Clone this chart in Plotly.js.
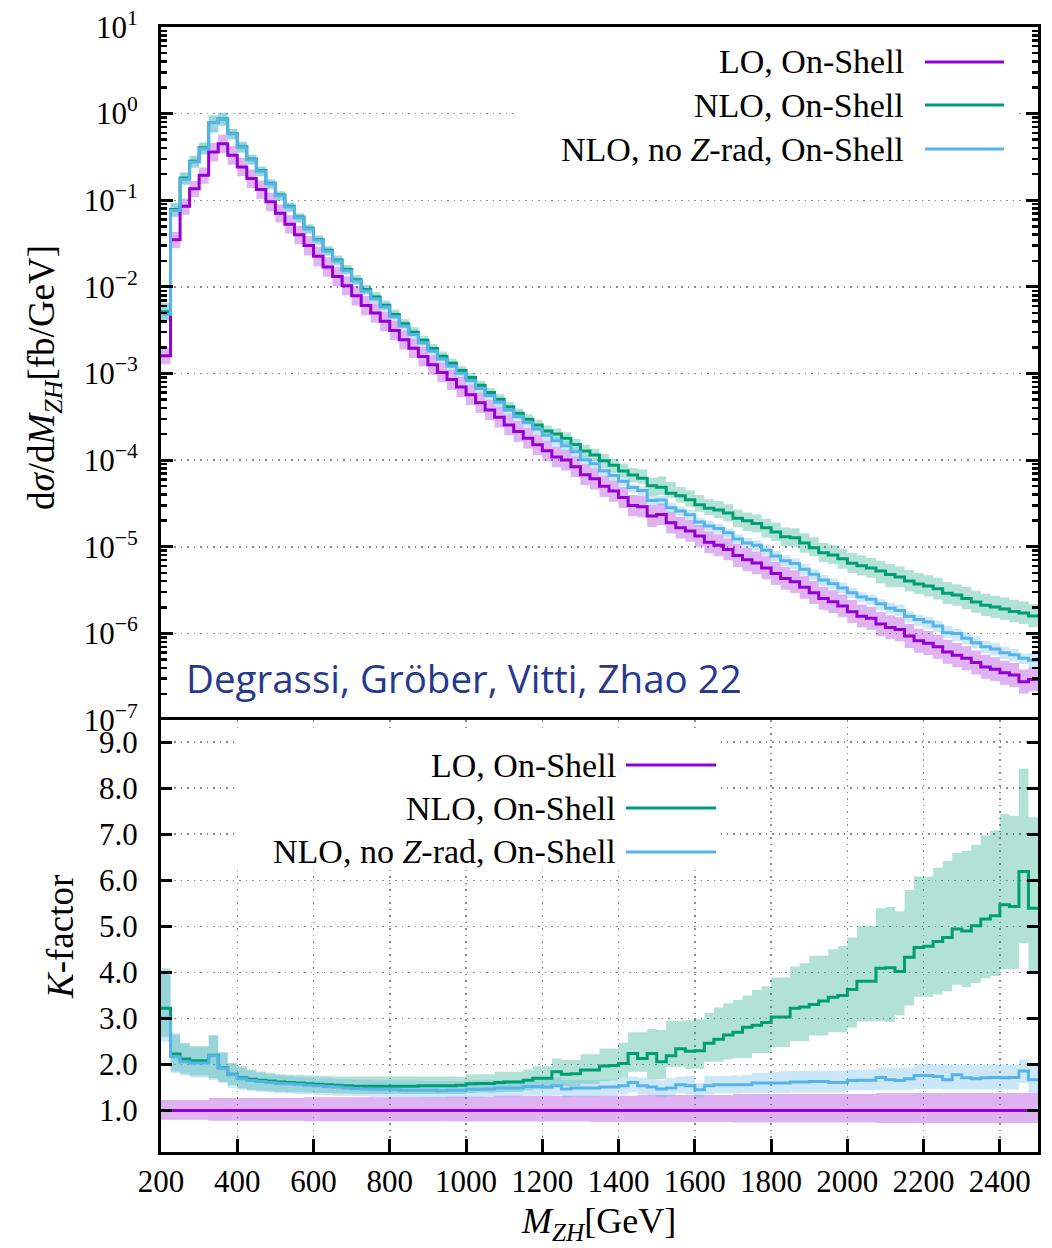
<!DOCTYPE html>
<html>
<head>
<meta charset="utf-8">
<script src="https://cdn.plot.ly/plotly-3.0.1.min.js"></script>
<style>
  html, body { margin: 0; padding: 0; background: #fff; }
  #chart { width: 1052px; height: 1248px; }
</style>
</head>
<body>
<div id="chart"></div>
<script>
// Invariant-mass bins of the ZH system (GeV), 25 GeV wide
const MASS_EDGES = [
  200,225,250,275,300,325,350,375,400,425,450,475,500,525,550,575,600,625,650,675,
  700,725,750,775,800,825,850,875,900,925,950,975,1000,1025,1050,1075,1100,1125,1150,1175,
  1200,1225,1250,1275,1300,1325,1350,1375,1400,1425,1450,1475,1500,1525,1550,1575,1600,1625,1650,1675,
  1700,1725,1750,1775,1800,1825,1850,1875,1900,1925,1950,1975,2000,2025,2050,2075,2100,2125,2150,2175,
  2200,2225,2250,2275,2300,2325,2350,2375,2400,2425,2450,2475,2500
];

// LO differential cross section dσ/dM_ZH per bin (fb/GeV)
const LO_XSEC = [
  1.6e-3, 3.5e-2, 8.5e-2, 1.36e-1, 1.94e-1, 3.6e-1, 4.5e-1, 3.3e-1, 2.42e-1, 1.78e-1,
  1.33e-1, 9.6e-2, 7.1e-2, 5.3e-2, 4.0e-2, 3.0e-2, 2.25e-2, 1.70e-2, 1.32e-2, 1.03e-2,
  7.9e-3, 6.1e-3, 5.0e-3, 4.0e-3, 3.14e-3, 2.45e-3, 1.96e-3, 1.57e-3, 1.26e-3, 1.03e-3,
  8.5e-4, 7.0e-4, 5.7e-4, 4.6e-4, 3.8e-4, 3.13e-4, 2.55e-4, 2.14e-4, 1.79e-4, 1.50e-4,
  1.28e-4, 1.09e-4, 1.0e-4, 8.4e-5, 6.8e-5, 6.1e-5, 5.0e-5, 4.4e-5, 3.7e-5, 3.0e-5,
  2.9e-5, 2.26e-5, 2.36e-5, 1.89e-5, 1.66e-5, 1.52e-5, 1.33e-5, 1.13e-5, 1.04e-5, 9.3e-6,
  7.9e-6, 7.1e-6, 6.5e-6, 5.7e-6, 4.9e-6, 4.3e-6, 3.95e-6, 3.4e-6, 2.95e-6, 2.53e-6,
  2.32e-6, 2.07e-6, 1.78e-6, 1.58e-6, 1.49e-6, 1.28e-6, 1.17e-6, 1.11e-6, 9.3e-7, 8.2e-7,
  7.7e-7, 7.0e-7, 6.1e-7, 5.6e-7, 5.15e-7, 4.6e-7, 4.1e-7, 3.85e-7, 3.5e-7, 3.3e-7,
  2.77e-7, 2.94e-7
];

// LO scale band relative to the LO central value
const K_LO_LOW = [
  0.80,0.80,0.80,0.80,0.80,0.78,0.78,0.78,0.78,0.78,
  0.78,0.78,0.78,0.78,0.78,0.77,0.77,0.77,0.77,0.77,
  0.77,0.77,0.77,0.77,0.77,0.77,0.77,0.77,0.77,0.77,
  0.76,0.76,0.76,0.76,0.76,0.76,0.76,0.76,0.76,0.76,
  0.76,0.76,0.76,0.76,0.76,0.75,0.75,0.75,0.75,0.75,
  0.75,0.75,0.75,0.75,0.75,0.75,0.75,0.75,0.75,0.75,
  0.74,0.74,0.74,0.74,0.74,0.74,0.74,0.74,0.74,0.74,
  0.74,0.74,0.74,0.74,0.74,0.73,0.73,0.73,0.73,0.73,
  0.73,0.73,0.73,0.73,0.73,0.73,0.73,0.73,0.73,0.73,
  0.73,0.73
];
const K_LO_HIGH = [
  1.23,1.23,1.23,1.23,1.23,1.27,1.27,1.27,1.27,1.27,
  1.27,1.27,1.27,1.27,1.27,1.29,1.29,1.29,1.29,1.29,
  1.29,1.29,1.29,1.29,1.29,1.29,1.29,1.29,1.29,1.29,
  1.30,1.30,1.30,1.30,1.30,1.32,1.32,1.32,1.32,1.32,
  1.32,1.32,1.32,1.32,1.32,1.32,1.32,1.32,1.32,1.32,
  1.34,1.34,1.34,1.34,1.34,1.34,1.34,1.34,1.34,1.34,
  1.36,1.36,1.36,1.36,1.36,1.36,1.36,1.36,1.36,1.36,
  1.36,1.36,1.36,1.36,1.36,1.38,1.38,1.38,1.38,1.38,
  1.38,1.38,1.38,1.38,1.38,1.38,1.38,1.38,1.38,1.38,
  1.38,1.38
];

// K-factor NLO / LO, on-shell
const K_NLO = [
  3.22,2.23,2.12,2.08,2.08,2.20,1.93,1.79,1.71,1.68,
  1.66,1.64,1.62,1.61,1.60,1.58,1.57,1.56,1.55,1.54,
  1.53,1.53,1.53,1.53,1.53,1.53,1.53,1.54,1.54,1.54,
  1.54,1.55,1.58,1.59,1.59,1.61,1.62,1.62,1.66,1.70,
  1.70,1.84,1.79,1.80,1.88,1.88,1.97,1.98,2.02,2.24,
  2.13,2.24,2.06,2.19,2.34,2.29,2.30,2.46,2.55,2.64,
  2.70,2.81,2.85,2.91,3.03,3.03,3.22,3.25,3.30,3.38,
  3.46,3.50,3.63,3.81,3.81,4.09,4.10,4.02,4.33,4.54,
  4.57,4.67,4.76,4.94,4.90,5.01,5.16,5.23,5.47,5.43,
  6.19,5.39
];
const K_NLO_LOW = [
  2.60,1.85,1.80,1.76,1.76,1.70,1.62,1.55,1.48,1.45,
  1.43,1.42,1.41,1.40,1.40,1.39,1.38,1.38,1.37,1.37,
  1.36,1.36,1.36,1.36,1.36,1.36,1.36,1.36,1.36,1.36,
  1.36,1.36,1.38,1.39,1.39,1.40,1.41,1.41,1.44,1.46,
  1.46,1.56,1.53,1.53,1.58,1.58,1.64,1.65,1.70,1.84,
  1.84,1.68,1.68,1.95,1.95,1.91,1.91,2.06,2.06,2.11,
  2.14,2.14,2.25,2.25,2.38,2.38,2.51,2.51,2.63,2.63,
  2.70,2.70,2.80,2.94,2.94,2.94,2.92,3.07,3.28,3.47,
  3.47,3.52,3.59,3.73,3.68,3.77,3.87,3.92,4.07,4.07,
  4.63,4.01
];
const K_NLO_HIGH = [
  4.09,2.68,2.47,2.40,2.40,2.64,2.27,2.03,1.96,1.89,
  1.85,1.82,1.79,1.78,1.77,1.76,1.75,1.75,1.74,1.74,
  1.74,1.74,1.74,1.74,1.74,1.74,1.74,1.74,1.74,1.74,
  1.74,1.73,1.79,1.79,1.79,1.84,1.84,1.84,1.89,1.96,
  1.96,2.13,2.10,2.10,2.22,2.22,2.35,2.35,2.47,2.70,
  2.70,2.77,2.75,2.95,2.95,2.96,2.98,3.12,3.24,3.33,
  3.40,3.50,3.62,3.70,3.89,3.89,4.13,4.20,4.36,4.36,
  4.50,4.57,4.76,5.01,5.01,5.39,5.42,5.33,5.79,6.08,
  6.08,6.27,6.42,6.59,6.64,6.77,6.97,7.08,7.44,7.40,
  8.42,7.37
];

// K-factor NLO without Z radiation / LO, on-shell
const K_NOZ = [
  3.01,2.17,2.06,2.03,2.03,2.19,1.92,1.78,1.69,1.65,
  1.63,1.61,1.59,1.58,1.57,1.55,1.54,1.52,1.51,1.49,
  1.48,1.47,1.46,1.46,1.45,1.44,1.44,1.44,1.44,1.43,
  1.44,1.44,1.46,1.46,1.47,1.49,1.49,1.49,1.52,1.52,
  1.51,1.54,1.47,1.49,1.49,1.49,1.51,1.51,1.54,1.61,
  1.54,1.51,1.47,1.49,1.56,1.54,1.45,1.54,1.56,1.56,
  1.56,1.56,1.60,1.60,1.60,1.60,1.62,1.62,1.63,1.63,
  1.61,1.61,1.65,1.66,1.66,1.72,1.67,1.65,1.69,1.76,
  1.76,1.74,1.67,1.78,1.71,1.69,1.71,1.72,1.71,1.72,
  1.86,1.67
];
const K_NOZ_LOW = [
  2.50,1.81,1.76,1.72,1.72,1.66,1.60,1.49,1.45,1.43,
  1.41,1.39,1.38,1.37,1.36,1.35,1.34,1.33,1.32,1.32,
  1.31,1.31,1.30,1.30,1.29,1.29,1.29,1.28,1.28,1.28,
  1.28,1.28,1.29,1.29,1.30,1.31,1.31,1.31,1.33,1.33,
  1.32,1.34,1.29,1.31,1.31,1.31,1.32,1.32,1.35,1.40,
  1.35,1.33,1.29,1.31,1.37,1.35,1.28,1.35,1.37,1.37,
  1.37,1.38,1.38,1.38,1.38,1.38,1.39,1.39,1.39,1.39,
  1.39,1.39,1.44,1.44,1.44,1.44,1.44,1.44,1.44,1.47,
  1.47,1.47,1.45,1.45,1.45,1.45,1.45,1.45,1.45,1.45,
  1.60,1.38
];
const K_NOZ_HIGH = [
  4.00,2.64,2.44,2.37,2.37,2.62,2.25,2.01,1.93,1.86,
  1.82,1.79,1.76,1.75,1.73,1.72,1.71,1.70,1.69,1.68,
  1.67,1.67,1.66,1.66,1.65,1.65,1.65,1.64,1.64,1.64,
  1.64,1.64,1.65,1.65,1.66,1.66,1.66,1.66,1.70,1.70,
  1.70,1.72,1.66,1.66,1.66,1.66,1.67,1.67,1.70,1.74,
  1.72,1.68,1.66,1.70,1.74,1.75,1.60,1.75,1.75,1.75,
  1.76,1.78,1.82,1.82,1.84,1.86,1.86,1.86,1.87,1.87,
  1.87,1.87,1.89,1.89,1.89,1.93,1.93,1.93,1.93,2.01,
  2.01,2.00,2.00,2.00,2.00,2.00,2.00,2.00,2.00,2.00,
  2.11,2.00
];

const SERIES_LABELS = ['LO, On-Shell', 'NLO, On-Shell', 'NLO, no <i>Z</i>-rad, On-Shell'];
const MASS_TICKS = [200,400,600,800,1000,1200,1400,1600,1800,2000,2200,2400];
const XSEC_TICKS = [1e-7,1e-6,1e-5,1e-4,1e-3,1e-2,1e-1,1e0,1e1];
const XSEC_TICK_TEXT = ['10<sup>−7</sup>','10<sup>−6</sup>','10<sup>−5</sup>','10<sup>−4</sup>',
  '10<sup>−3</sup>','10<sup>−2</sup>','10<sup>−1</sup>','10<sup>0</sup>','10<sup>1</sup>'];
const K_TICKS = [1,2,3,4,5,6,7,8,9];
const K_TICK_TEXT = ['1.0','2.0','3.0','4.0','5.0','6.0','7.0','8.0','9.0'];
const AUTHORS = 'Degrassi, Gröber, Vitti, Zhao 22';

// ---- styling ----
const LINE_COLORS = ['#9400D3', '#009E73', '#56B4E9'];
const FILL_COLORS = ['rgba(148,0,211,0.3)', 'rgba(0,158,115,0.3)', 'rgba(86,180,233,0.3)'];
const SERIF = '"Liberation Serif", "Times New Roman", serif';
const GRID = '#8a8a8a';

// plot-area geometry in pixels, used to place text in paper coordinates
const PL = 161, PR = 1038, PT = 27, PB = 1152;
const fx = px => (px - PL) / (PR - PL);
const fy = py => 1 - (py - PT) / (PB - PT);
const SPLIT = fy(720);

// step curves: one point per bin edge, last value repeated on the closing edge
const stepY = v => v.concat([v[v.length - 1]]);
const mul = (a, b) => a.map((v, i) => v * b[i]);

function bandTraces(xa, ya, lo, hi, fill) {
  return [
    { x: MASS_EDGES, y: stepY(lo), xaxis: xa, yaxis: ya, type: 'scatter', mode: 'lines',
      line: { shape: 'hv', width: 0, color: fill }, hoverinfo: 'skip', showlegend: false },
    { x: MASS_EDGES, y: stepY(hi), xaxis: xa, yaxis: ya, type: 'scatter', mode: 'lines',
      line: { shape: 'hv', width: 0, color: fill }, fill: 'tonexty', fillcolor: fill,
      hoverinfo: 'skip', showlegend: false }
  ];
}
function lineTrace(xa, ya, v, color, name) {
  return { x: MASS_EDGES, y: stepY(v), xaxis: xa, yaxis: ya, type: 'scatter', mode: 'lines',
    name: name, line: { shape: 'hv', width: 3, color: color }, showlegend: false };
}

// upper panel: absolute distributions
const NLO_XSEC = mul(LO_XSEC, K_NLO);
const NOZ_XSEC = mul(LO_XSEC, K_NOZ);
const topBands = [
  [mul(LO_XSEC, K_LO_LOW), mul(LO_XSEC, K_LO_HIGH)],
  [mul(LO_XSEC, K_NLO_LOW), mul(LO_XSEC, K_NLO_HIGH)],
  [mul(LO_XSEC, K_NOZ_LOW), mul(LO_XSEC, K_NOZ_HIGH)]
];
const topLines = [LO_XSEC, NLO_XSEC, NOZ_XSEC];

// lower panel: ratios to the LO central value
const K_LO = LO_XSEC.map(v => v / v);
const botBands = [[K_LO_LOW, K_LO_HIGH], [K_NLO_LOW, K_NLO_HIGH], [K_NOZ_LOW, K_NOZ_HIGH]];
const botLines = [K_LO, K_NLO, K_NOZ];

const traces = [];
for (let s = 0; s < 3; s++) traces.push(...bandTraces('x', 'y', topBands[s][0], topBands[s][1], FILL_COLORS[s]));
for (let s = 0; s < 3; s++) traces.push(lineTrace('x', 'y', topLines[s], LINE_COLORS[s], SERIES_LABELS[s]));
for (let s = 0; s < 3; s++) traces.push(...bandTraces('x2', 'y2', botBands[s][0], botBands[s][1], FILL_COLORS[s]));
for (let s = 0; s < 3; s++) traces.push(lineTrace('x2', 'y2', botLines[s], LINE_COLORS[s], SERIES_LABELS[s]));

// minor tick positions on the logarithmic axis
const logMinor = [];
for (let d = -7; d < 1; d++) for (let m = 2; m <= 9; m++) logMinor.push(m * Math.pow(10, d));

const axisLine = { showline: true, linecolor: '#000', linewidth: 3, zeroline: false };

const annotations = [];
const shapes = [];

// white boxes behind the legends hide the grid there
shapes.push({ type: 'rect', xref: 'x', yref: 'y', layer: 'between', x0: 1128, x1: 2438, y0: 0.21, y1: 8.0,
  fillcolor: '#fff', line: { width: 0 } });
shapes.push({ type: 'rect', xref: 'x2', yref: 'y2', layer: 'between', x0: 392, x1: 1668, y0: 6.22, y1: 9.25,
  fillcolor: '#fff', line: { width: 0 } });

function legend(rowsPx, textRightPx, lineX0Px, lineX1Px) {
  rowsPx.forEach((py, i) => {
    annotations.push({ xref: 'paper', yref: 'paper', x: fx(textRightPx), y: fy(py), xanchor: 'right', yanchor: 'middle',
      text: SERIES_LABELS[i], showarrow: false, font: { family: SERIF, size: 34, color: '#000' } });
    shapes.push({ type: 'line', xref: 'paper', yref: 'paper', x0: fx(lineX0Px), x1: fx(lineX1Px), y0: fy(py), y1: fy(py),
      line: { color: LINE_COLORS[i], width: 3 } });
  });
}
legend([62, 105, 149], 906, 925, 1004);
legend([765, 808, 852], 618, 626, 716);

// collaboration tag
annotations.push({ xref: 'paper', yref: 'paper', x: fx(184), y: fy(678), xanchor: 'left', yanchor: 'middle',
  text: AUTHORS, showarrow: false, font: { family: '"Open Sans", Lato, sans-serif', size: 38.5, color: '#26398c' } });

// axis titles
annotations.push({ xref: 'paper', yref: 'paper', x: fx(44), y: fy(378), xanchor: 'center', yanchor: 'middle', textangle: -90,
  text: 'd<i>σ</i>/d<i>M</i><sub><i>ZH</i></sub>[fb/GeV]', showarrow: false, font: { family: SERIF, size: 37, color: '#000' } });
annotations.push({ xref: 'paper', yref: 'paper', x: fx(60), y: fy(937), xanchor: 'center', yanchor: 'middle', textangle: -90,
  text: '<i>K</i>-factor', showarrow: false, font: { family: SERIF, size: 37, color: '#000' } });
annotations.push({ xref: 'paper', yref: 'paper', x: fx(598), y: fy(1223), xanchor: 'center', yanchor: 'middle',
  text: '<i>M</i><sub><i>ZH</i></sub>[GeV]', showarrow: false, font: { family: SERIF, size: 36, color: '#000' } });

const layout = {
  width: 1052, height: 1248,
  margin: { l: PL, r: 1052 - PR, t: PT, b: 1248 - PB, pad: 0 },
  paper_bgcolor: '#fff', plot_bgcolor: '#fff',
  showlegend: false,
  font: { family: SERIF, size: 31, color: '#000' },
  // upper panel: only its top frame line; the line between the panels comes from the lower x axis
  xaxis: Object.assign({}, axisLine, {
    domain: [0, 1], anchor: 'y', side: 'top', range: [200, 2500], mirror: false,
    showticklabels: false, ticks: '', showgrid: false
  }),
  yaxis: Object.assign({}, axisLine, {
    domain: [SPLIT, 1], anchor: 'x', type: 'log', range: [-7, 1], mirror: 'ticks',
    tickmode: 'array', tickvals: XSEC_TICKS, ticktext: XSEC_TICK_TEXT,
    ticks: 'inside', ticklen: 12, tickwidth: 3, tickcolor: '#000', ticklabelstandoff: 14,
    tickfont: { family: SERIF, size: 31, color: '#000' },
    minor: { tickmode: 'array', tickvals: logMinor, ticks: 'inside', ticklen: 6, tickwidth: 2.5, tickcolor: '#000', showgrid: false },
    showgrid: true, gridcolor: GRID, gridwidth: 1.5, griddash: '1.5px,5px'
  }),
  xaxis2: Object.assign({}, axisLine, {
    domain: [0, 1], anchor: 'y2', range: [200, 2500], mirror: true,
    tickmode: 'array', tickvals: MASS_TICKS,
    ticks: 'inside', ticklen: 13, tickwidth: 3, tickcolor: '#000', ticklabelstandoff: 0,
    tickfont: { family: SERIF, size: 31, color: '#000' },
    showgrid: true, gridcolor: GRID, gridwidth: 1.5, griddash: '1.5px,5px'
  }),
  yaxis2: Object.assign({}, axisLine, {
    domain: [0, SPLIT], anchor: 'x2', range: [0.1, 9.48], mirror: 'ticks',
    tickmode: 'array', tickvals: K_TICKS, ticktext: K_TICK_TEXT,
    ticks: 'inside', ticklen: 11, tickwidth: 3, tickcolor: '#000', ticklabelstandoff: 14,
    tickfont: { family: SERIF, size: 31, color: '#000' },
    showgrid: true, gridcolor: GRID, gridwidth: 1.5, griddash: '1.5px,5px'
  }),
  shapes: shapes,
  annotations: annotations
};

Plotly.newPlot('chart', traces, layout, { staticPlot: true, displayModeBar: false });
</script>
</body>
</html>
